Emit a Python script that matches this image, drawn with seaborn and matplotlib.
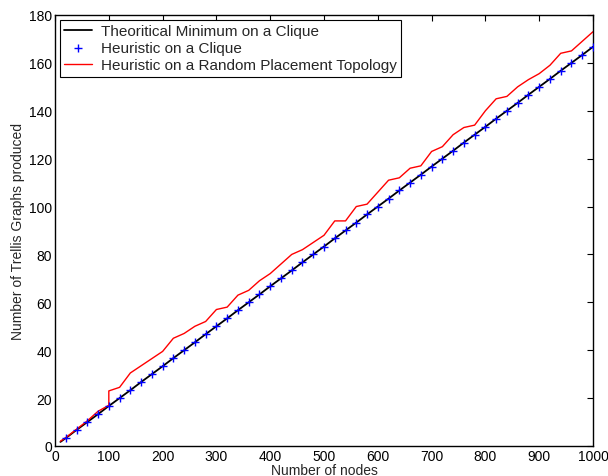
import matplotlib
matplotlib.use("Agg")
import matplotlib.pyplot as plt
import seaborn as sns

# theoretical minimum on a clique (read at every 20 nodes)
min_nodes = [10, 20, 40, 60, 80, 100, 120, 140, 160, 180, 200, 220, 240, 260, 280, 300,
             320, 340, 360, 380, 400, 420, 440, 460, 480, 500, 520, 540, 560, 580, 600,
             620, 640, 660, 680, 700, 720, 740, 760, 780, 800, 820, 840, 860, 880, 900,
             920, 940, 960, 980, 1000]
min_graphs = [1.7, 3.3, 6.7, 10.0, 13.3, 16.7, 20.0, 23.3, 26.7, 30.0, 33.3, 36.7, 40.0,
              43.3, 46.7, 50.0, 53.3, 56.7, 60.0, 63.3, 66.7, 70.0, 73.3, 76.7, 80.0, 83.3,
              86.7, 90.0, 93.3, 96.7, 100.0, 103.3, 106.7, 110.0, 113.3, 116.7, 120.0,
              123.3, 126.7, 130.0, 133.3, 136.7, 140.0, 143.3, 146.7, 150.0, 153.3, 156.7,
              160.0, 163.3, 166.7]

# heuristic on a clique (blue crosses)
clique_nodes = min_nodes[1:]
clique_graphs = min_graphs[1:]

# heuristic on a random placement topology
rand_nodes = [10, 20, 40, 60, 80, 100, 100, 120, 140, 160, 180, 200, 220, 240, 260, 280,
              300, 320, 340, 360, 380, 400, 420, 440, 460, 480, 500, 520, 540, 560, 580,
              600, 620, 640, 660, 680, 700, 720, 740, 760, 780, 800, 820, 840, 860, 880,
              900, 920, 940, 960, 980, 1000]
rand_graphs = [2.0, 3.5, 7.0, 10.5, 14.5, 17.0, 23.0, 24.5, 30.5, 33.5, 36.5, 39.5, 45.0,
               47.0, 50.0, 52.0, 57.0, 58.0, 63.0, 65.0, 69.0, 72.0, 76.0, 80.0, 82.0,
               85.0, 88.0, 94.0, 94.0, 100.0, 101.0, 106.0, 111.0, 112.0, 116.0, 117.0,
               123.0, 125.0, 130.0, 133.0, 134.0, 140.0, 145.0, 146.0, 150.0, 153.0,
               155.5, 159.0, 164.0, 165.0, 169.0, 173.0]

x_ticks = [0, 100, 200, 300, 400, 500, 600, 700, 800, 900, 1000]
y_ticks = [0, 20, 40, 60, 80, 100, 120, 140, 160, 180]

sns.set_theme(style="white")
plt.rcParams.update(
    {
        "font.family": ["Liberation Sans", "DejaVu Sans"],
        "font.size": 10,
        "xtick.direction": "in",
        "ytick.direction": "in",
        "xtick.top": True,
        "ytick.right": True,
        "xtick.major.size": 4,
        "ytick.major.size": 4,
        "axes.edgecolor": "black",
        "axes.linewidth": 1.0,
    }
)

fig = plt.figure(figsize=(6.08, 4.77), dpi=100)
ax = fig.add_axes([0.0905, 0.0629, 0.8848, 0.9036])

sns.lineplot(x=min_nodes, y=min_graphs, color="black", linewidth=1.3, estimator=None,
             sort=False, ax=ax, label="Theoritical Minimum on a Clique")
sns.scatterplot(x=clique_nodes, y=clique_graphs, color="blue", marker="+", s=28,
                linewidth=1.0, ax=ax, label="Heuristic on a Clique", zorder=3)
sns.lineplot(x=rand_nodes, y=rand_graphs, color="red", linewidth=1.0, estimator=None,
             sort=False, ax=ax, label="Heuristic on a Random Placement Topology")

ax.set_xlim(0, 1000)
ax.set_ylim(0, 180)
ax.set_xticks(x_ticks)
ax.set_yticks(y_ticks)
ax.tick_params(axis="both", colors="black", labelsize=10, length=4, width=0.8, pad=2)
ax.set_xlabel("Number of nodes", fontsize=10, labelpad=0)
ax.set_ylabel("Number of Trellis Graphs produced", fontsize=10, labelpad=3)
for spine in ax.spines.values():
    spine.set_visible(True)
    spine.set_color("black")

leg = ax.legend(loc="upper left", frameon=True, fancybox=False, fontsize=11,
                borderaxespad=0.3, handlelength=1.8, labelspacing=0.2, borderpad=0.3,
                handletextpad=0.6)
leg.get_frame().set_edgecolor("black")
leg.get_frame().set_linewidth(0.8)
leg.get_frame().set_alpha(1)

fig.savefig("out.png", dpi=100)
